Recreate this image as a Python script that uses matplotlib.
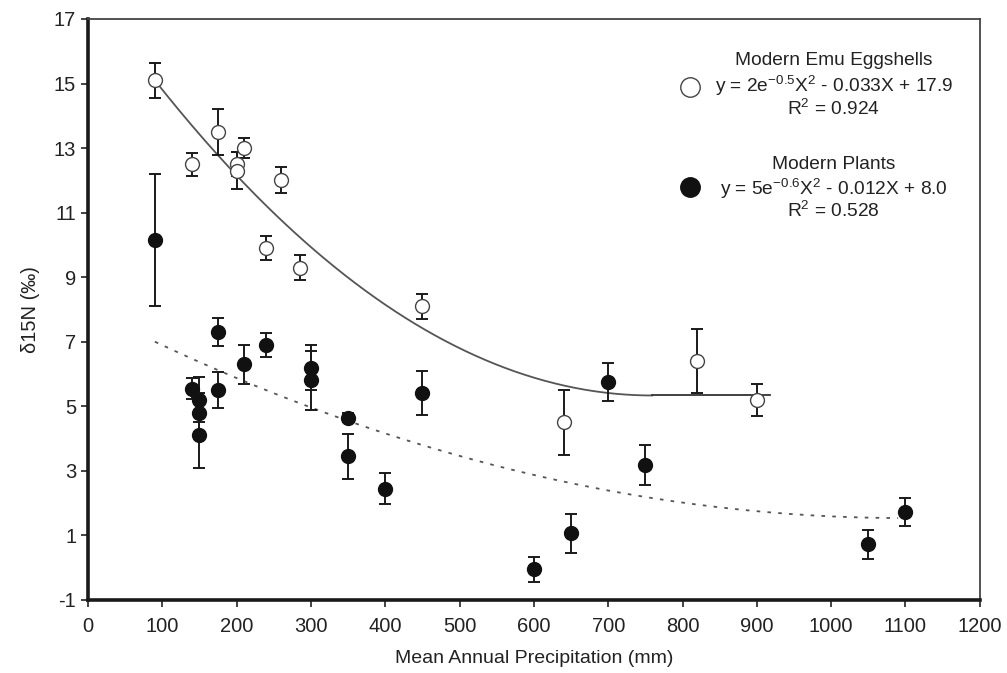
import numpy as np
import matplotlib
matplotlib.use('Agg')
import matplotlib.pyplot as plt

plt.rcParams['font.family'] = ['Liberation Sans', 'DejaVu Sans']
plt.rcParams['axes.unicode_minus'] = False
plt.rcParams['mathtext.fontset'] = 'custom'
plt.rcParams['mathtext.rm'] = 'Liberation Sans'
plt.rcParams['mathtext.it'] = 'Liberation Sans'

# Modern emu eggshells
emu_x = [90, 140, 175, 200, 200, 210, 240, 260, 285, 450, 640, 820, 900]
emu_y = [15.1, 12.5, 13.5, 12.5, 12.3, 13.0, 9.9, 12.0, 9.3, 8.1, 4.5, 6.4, 5.2]
emu_err = [0.55, 0.35, 0.7, 0.38, 0.58, 0.3, 0.38, 0.4, 0.4, 0.38, 1.0, 1.0, 0.5]

# Modern plants
plant_x = [90, 140, 150, 150, 150, 175, 175, 210, 240, 300, 300, 350, 350, 400,
           450, 600, 650, 700, 750, 1050, 1100]
plant_y = [10.15, 5.55, 5.2, 4.8, 4.1, 7.3, 5.5, 6.3, 6.9, 6.2, 5.8, 4.65, 3.45,
           2.45, 5.4, -0.05, 1.07, 5.75, 3.18, 0.72, 1.72]
plant_err = [2.05, 0.33, 0.7, 0.6, 1.0, 0.43, 0.55, 0.6, 0.38, 0.7, 0.9, 0.15,
             0.7, 0.47, 0.68, 0.38, 0.6, 0.58, 0.62, 0.46, 0.43]

# quadratic fit coefficients (a, b, c) and x ranges of the drawn trend lines
emu_fit = [2.18e-5, -0.0331, 17.9]
emu_fit_range = [90, 918]
plant_fit = [5.37e-6, -0.0118, 8.02]
plant_fit_range = [90, 1090]

fig = plt.figure(figsize=(10.07, 6.73), dpi=100)
ax = fig.add_axes([0.0874, 0.1085, 0.8856, 0.8633])

err_kw = dict(fmt='none', ecolor='#1a1a1a', elinewidth=1.4, capsize=4.3,
              capthick=1.4, zorder=2)
ax.errorbar(emu_x, emu_y, yerr=emu_err, **err_kw)
ax.errorbar(plant_x, plant_y, yerr=plant_err, **err_kw)

# emu trend: quadratic down to its vertex, then flat
vx = -emu_fit[1] / (2 * emu_fit[0])
xs = np.linspace(emu_fit_range[0], vx, 200)
ax.plot(xs, np.polyval(emu_fit, xs), color='#555555', lw=1.3, zorder=1)
ax.plot([vx, emu_fit_range[1]], [np.polyval(emu_fit, vx)] * 2,
        color='#333333', lw=1.3, zorder=1)

xs2 = np.linspace(plant_fit_range[0], plant_fit_range[1], 300)
ax.plot(xs2, np.polyval(plant_fit, xs2), color='#555555', lw=1.3,
        dashes=(2, 4), zorder=1)

ax.plot(emu_x, emu_y, 'o', ms=10, mfc='white', mec='#444444', mew=1.0, zorder=3)
ax.plot(plant_x, plant_y, 'o', ms=10, mfc='#111111', mec='#111111', mew=1.0, zorder=3)

ax.set_xlim(0, 1200)
ax.set_ylim(-1, 17)
ax.set_xticks(np.arange(0, 1201, 100))
ax.set_yticks(np.arange(-1, 18, 2))
ax.tick_params(direction='out', length=5, width=1.2, labelsize=14.5, colors='#222222')
ax.tick_params(axis='x', pad=7)
for side in ['left', 'bottom']:
    ax.spines[side].set_linewidth(2.6)
    ax.spines[side].set_color('#1a1a1a')
for side in ['top', 'right']:
    ax.spines[side].set_linewidth(1.3)
    ax.spines[side].set_color('#444444')

ax.set_xlabel('Mean Annual Precipitation (mm)', fontsize=14, color='#222222', labelpad=10)
ax.set_ylabel('δ15N (‰)', fontsize=14.5, color='#222222', labelpad=10)

# legend-like annotation
ax.plot([(689 - 88) / 0.7425], [17 - (87 - 19) / 32.28], 'o', ms=14, mfc='white',
        mec='#444444', mew=1.0, clip_on=False)
ax.plot([(689 - 88) / 0.7425], [17 - (187 - 19) / 32.28], 'o', ms=14, mfc='#111111',
        mec='#111111', clip_on=False)
tx = (833 - 88) / 0.7425
txt = dict(ha='center', va='center', fontsize=13.8, color='#222222')
ax.text(tx, 17 - (61 - 19) / 32.28, 'Modern Emu Eggshells', **txt)
ax.text(tx, 17 - (86 - 19) / 32.28, r'y = 2e$^{\mathrm{-0.5}}$X$^{\mathrm{2}}$ - 0.033X + 17.9', **txt)
ax.text(tx, 17 - (109 - 19) / 32.28, r'R$^{\mathrm{2}}$ = 0.924', **txt)
ax.text(tx, 17 - (165 - 19) / 32.28, 'Modern Plants', **txt)
ax.text(tx, 17 - (189 - 19) / 32.28, r'y = 5e$^{\mathrm{-0.6}}$X$^{\mathrm{2}}$ - 0.012X + 8.0', **txt)
ax.text(tx, 17 - (211 - 19) / 32.28, r'R$^{\mathrm{2}}$ = 0.528', **txt)

fig.savefig('out.png', dpi=100)
